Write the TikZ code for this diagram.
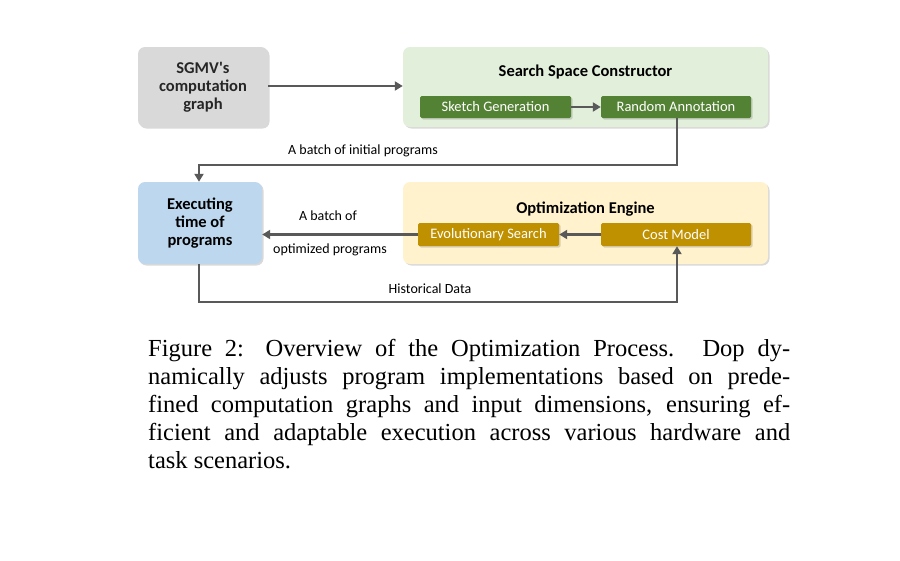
\documentclass[tikz,border=0pt]{standalone}
\usepackage{fontspec}
\setmainfont{Liberation Serif}
\newfontfamily\dsans{Carlito}
\usetikzlibrary{shadows,arrows.meta}
\definecolor{gbox}{HTML}{D9D9D9}
\definecolor{grbox}{HTML}{E2EFDA}
\definecolor{grdark}{HTML}{548235}
\definecolor{blbox}{HTML}{BDD7EE}
\definecolor{yebox}{HTML}{FFF2CC}
\definecolor{gold}{HTML}{BF9000}
\definecolor{arr}{HTML}{595959}
\begin{document}
\begin{tikzpicture}[x=1pt,y=-1pt,
  big/.style={draw=none,rounded corners=7pt,drop shadow={shadow xshift=1.5pt,shadow yshift=-1.5pt,opacity=0.3}},
  small/.style={rounded corners=1.5pt,text=white,font=\dsans\fontsize{14.5}{16}\selectfont,inner sep=0pt,drop shadow={shadow xshift=1.5pt,shadow yshift=-1.5pt,opacity=0.3}},
  ttl/.style={font=\dsans\bfseries\fontsize{16.5}{18}\selectfont,align=center},
  lbl/.style={font=\dsans\fontsize{14}{16}\selectfont},
  ar/.style={draw=arr,line width=2.3pt,-{Triangle[length=8pt,width=9pt]}},
  figcap/.style={anchor=base west,inner sep=0pt,font=\fontsize{24.5}{28}\selectfont}]
\useasboundingbox (0,0) rectangle (900,560);
% boxes
\node[big,fill=gbox,minimum width=130pt,minimum height=80pt,ttl,text=black!85] (sgmv) at (203,87) {SGMV's\\computation\\graph};
\node[big,fill=grbox,minimum width=365pt,minimum height=80pt] (ssc) at (585.5,87) {};
\node[ttl] (ssct) at (585.5,72) {Search Space Constructor};
\node[small,fill=grdark,minimum width=151pt,minimum height=22pt] (sk) at (495.5,107) {Sketch Generation};
\node[small,fill=grdark,minimum width=150pt,minimum height=22pt] (ra) at (676,107) {Random Annotation};
\node[big,fill=blbox,minimum width=124pt,minimum height=82pt,ttl] (ex) at (200,223) {Executing\\time of\\programs};
\node[big,fill=yebox,minimum width=365pt,minimum height=82pt] (oe) at (585.5,223) {};
\node[ttl] (oet) at (585.5,209) {Optimization Engine};
\node[small,fill=gold,minimum width=141pt,minimum height=23pt] (evo) at (488.5,234.5) {Evolutionary Search};
\node[small,fill=gold,minimum width=150pt,minimum height=23pt] (cm) at (676,234.5) {Cost Model};
% connectors
\draw[ar] (sgmv.east |- 0,86) -- (ssc.west |- 0,86);
\draw[ar] (sk) -- (ra);
\draw[ar] (ra.south -| 677,0) |- (199,165) -- (ex.north -| 199,0);
\draw[ar] (cm) -- (evo);
\draw[ar] (evo) -- (ex.east |- evo);
\draw[ar] (ex.south -| 199,0) |- (677,302) -- (cm.south -| 677,0);
\node[lbl] (l1) at (363,151) {A batch of initial programs};
\node[lbl] (l2) at (328,216) {A batch of};
\node[lbl] (l3) at (330,250) {optimized programs};
\node[lbl] (l4) at (430,289) {Historical Data};
% caption
\node[figcap] (c1) at (148,356) {\makebox[642pt][s]{Figure 2: Overview of the Optimization Process. Dop dy-}};
\node[figcap] (c2) at (148,384) {\makebox[642pt][s]{namically adjusts program implementations based on prede-}};
\node[figcap] (c3) at (148,412) {\makebox[642pt][s]{fined computation graphs and input dimensions, ensuring ef-}};
\node[figcap] (c4) at (148,440) {\makebox[642pt][s]{ficient and adaptable execution across various hardware and}};
\node[figcap] (c5) at (148,468) {task scenarios.};
\end{tikzpicture}
\end{document}
